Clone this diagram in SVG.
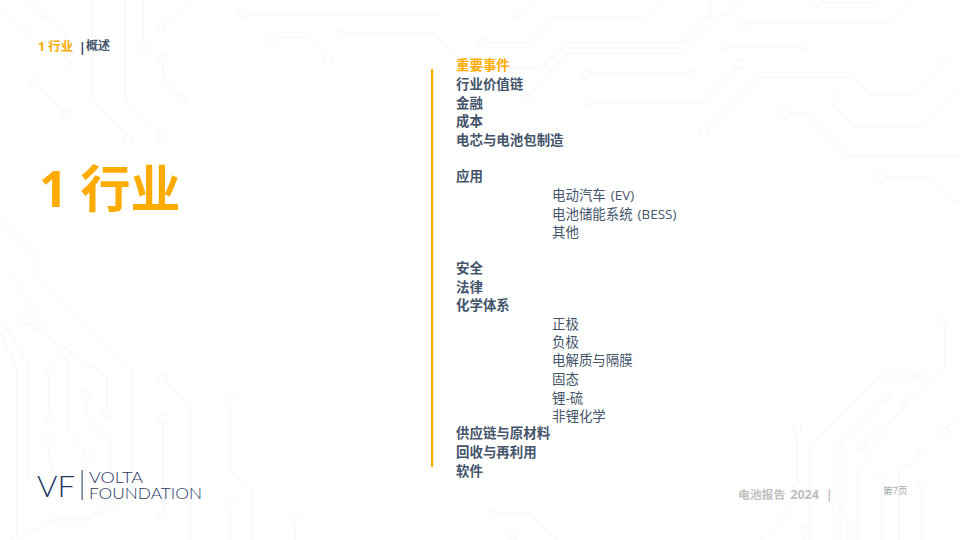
<svg xmlns="http://www.w3.org/2000/svg" width="960" height="540" viewBox="0 0 960 540">
<defs><style>
.t{fill:none;stroke:#f9fafb;stroke-width:2;stroke-linejoin:round}
.c{fill:#fff;stroke:#f9fafb;stroke-width:2}
text{font-family:"Open Sans","Noto Sans CJK SC",sans-serif}
.b{font-size:13.45px;font-weight:700;fill:#44546a}
.s{font-size:13.45px;font-weight:400;fill:#44546a;word-spacing:1.5px}
.logo{font-family:Lato,"Liberation Sans",sans-serif;font-weight:300;fill:#1f3864}
</style></defs>
<rect width="960" height="540" fill="#fff"/>
<g id="traces">
<path class="t" d="M0 7L25 30M28 0L67 37V60M92 0V100L128 135M125 0V100L162 135M143 0V44M190 0L164 25M163 63V75Q165 82 178 95M36 85L63 111M246 14H440M276 37H300Q308 37 316 45L326 57M344 33H433L470 68H540L567 43H680L710 15V0M486 43H530L554 18H643L662 0M521 15L535 0M529 94L568 53H684L740 0M590 74H687M594 102H702L737 67M748 23H887L910 0M727 46H798M820 3H877L880 0M707 129L758 77H853L870 94H913L942 64M835 99V107L855 127H923L960 90M788 113H805L848 156H960M884 178H927L953 202H960M0 220L34 254"/>
<path class="t" d="M0 333L17 367V540M0 317L28 363V480M7 270L68 363V430L86 453M33 270L132 370V500L90 517H60L10 540M49 374V414M86 399V417L110 443V487L90 520H50L20 540M29 323L107 377V410M49 444V460Q50 470 60 480M166 382L190 405V540M163 422V511M230 403V470L252 490V540M230 507V540M295 521V540M945 326V370L861 446M922 376H880L810 447V540M883 400L840 443V540M907 400L858 470V540M797 432V483M797 491V500L773 530L760 540M919 455L899 473V540M882 483V540M947 428L960 413M922 490V540M840 511L848 520V540M804 534V540M497 514H530L557 540"/>
<g>
<circle class="c" cx="28" cy="33" r="4.5"/><circle class="c" cx="67" cy="64" r="4.5"/><circle class="c" cx="128" cy="139" r="4.5"/><circle class="c" cx="162" cy="139" r="4.5"/><circle class="c" cx="143" cy="48" r="4.5"/><circle class="c" cx="161" cy="28" r="4.5"/><circle class="c" cx="163" cy="59" r="4.5"/><circle class="c" cx="181" cy="98" r="4.5"/><circle class="c" cx="33" cy="82" r="4.5"/><circle class="c" cx="66" cy="114" r="4.5"/><circle class="c" cx="242" cy="14" r="4.5"/><circle class="c" cx="272" cy="38" r="4.5"/><circle class="c" cx="328" cy="60" r="4.5"/><circle class="c" cx="340" cy="33" r="4.5"/><circle class="c" cx="482" cy="43" r="4.5"/><circle class="c" cx="518" cy="15" r="4.5"/><circle class="c" cx="526" cy="97" r="4.5"/><circle class="c" cx="586" cy="74" r="4.5"/><circle class="c" cx="691" cy="74" r="4.5"/><circle class="c" cx="590" cy="102" r="4.5"/><circle class="c" cx="740" cy="64" r="4.5"/><circle class="c" cx="744" cy="23" r="4.5"/><circle class="c" cx="723" cy="46" r="3.5"/><circle class="c" cx="802" cy="46" r="3.5"/><circle class="c" cx="817" cy="3" r="4.5"/><circle class="c" cx="704" cy="132" r="4.5"/><circle class="c" cx="945" cy="61" r="4.5"/><circle class="c" cx="835" cy="95" r="4.5"/><circle class="c" cx="784" cy="113" r="4.5"/><circle class="c" cx="880" cy="178" r="4.5"/><circle class="c" cx="37" cy="257" r="4.5"/>
<circle class="c" cx="26" cy="320" r="4.5"/><circle class="c" cx="49" cy="370" r="4.5"/><circle class="c" cx="49" cy="418" r="4.5"/><circle class="c" cx="86" cy="395" r="4.5"/><circle class="c" cx="107" cy="414" r="4.5"/><circle class="c" cx="89" cy="456" r="4.5"/><circle class="c" cx="49" cy="440" r="4.5"/><circle class="c" cx="163" cy="379" r="4.5"/><circle class="c" cx="163" cy="418" r="4.5"/><circle class="c" cx="163" cy="515" r="4.5"/><circle class="c" cx="230" cy="399" r="4.5"/><circle class="c" cx="230" cy="503" r="4.5"/><circle class="c" cx="295" cy="517" r="4.5"/><circle class="c" cx="943" cy="322" r="4.5"/><circle class="c" cx="922" cy="376" r="4.5"/><circle class="c" cx="886" cy="397" r="4.5"/><circle class="c" cx="910" cy="397" r="4.5"/><circle class="c" cx="861" cy="446" r="4.5"/><circle class="c" cx="797" cy="428" r="4.5"/><circle class="c" cx="797" cy="487" r="4.5"/><circle class="c" cx="922" cy="452" r="4.5"/><circle class="c" cx="882" cy="479" r="4.5"/><circle class="c" cx="944" cy="431" r="4.5"/><circle class="c" cx="922" cy="486" r="4.5"/><circle class="c" cx="836" cy="508" r="4.5"/><circle class="c" cx="804" cy="530" r="4.5"/><circle class="c" cx="493" cy="514" r="4.5"/><circle class="c" cx="513" cy="535" r="4.5"/>
</g>
</g>
<g id="breadcrumb">
<text x="38" y="51" font-size="12.4" font-weight="700" fill="#ffab00">1 行业</text>
<text x="79" y="52" font-size="12" font-weight="700" fill="#1f3864">|</text>
<text x="86" y="50" font-size="12" font-weight="700" fill="#44546a">概述</text>
</g>
<g id="title"><text x="39" y="207" font-size="50" font-weight="700" fill="#ffab00">1 行业</text></g>
<rect id="bar" x="431" y="69" width="2.2" height="398" fill="#ffab00"/>
<g id="contents">
<text class="b" x="456" y="70" style="fill:#ffab00">重要事件</text>
<text class="b" x="456" y="89">行业价值链</text>
<text class="b" x="456" y="108">金融</text>
<text class="b" x="456" y="126">成本</text>
<text class="b" x="456" y="145">电芯与电池包制造</text>
<text class="b" x="456" y="181">应用</text>
<text class="s" x="552" y="200">电动汽车 (EV)</text>
<text class="s" x="552" y="219">电池储能系统 (BESS)</text>
<text class="s" x="552" y="237">其他</text>
<text class="b" x="456" y="273">安全</text>
<text class="b" x="456" y="292">法律</text>
<text class="b" x="456" y="310">化学体系</text>
<text class="s" x="552" y="329">正极</text>
<text class="s" x="552" y="347">负极</text>
<text class="s" x="552" y="365">电解质与隔膜</text>
<text class="s" x="552" y="384">固态</text>
<text class="s" x="552" y="403">锂-硫</text>
<text class="s" x="552" y="421">非锂化学</text>
<text class="b" x="456" y="438">供应链与原材料</text>
<text class="b" x="456" y="457">回收与再利用</text>
<text class="b" x="456" y="476">软件</text>
</g>
<g id="logo">
<text class="logo" x="37" y="497" font-size="29" textLength="38" lengthAdjust="spacingAndGlyphs">VF</text>
<rect x="81.6" y="470" width="1" height="30" fill="#1f3864"/>
<text class="logo" x="89" y="483" font-size="15.5" textLength="54" lengthAdjust="spacingAndGlyphs">VOLTA</text>
<text class="logo" x="89" y="499" font-size="15.5" textLength="113" lengthAdjust="spacingAndGlyphs">FOUNDATION</text>
</g>
<g id="footer">
<text x="738" y="499" font-size="11.8" font-weight="700" fill="#bfbfbf" word-spacing="2">电池报告 <tspan font-size="12.5">2024</tspan> <tspan dx="2">|</tspan></text>
<text x="883" y="494" font-size="9.6" fill="#a6a6a6">第7页</text>
</g>
</svg>
